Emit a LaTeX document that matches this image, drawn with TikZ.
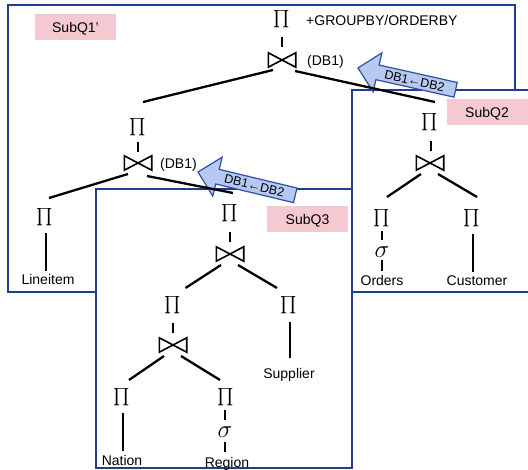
\documentclass[tikz,border=0pt]{standalone}
\usepackage{fontspec}
\setmainfont{Liberation Sans}
\usepackage{exscale}
\definecolor{boxblue}{HTML}{1F3D91}
\definecolor{arrfill}{HTML}{B7C9F1}
\definecolor{arrdraw}{HTML}{2E4FA6}
\definecolor{pinkq}{HTML}{F5C9D2}
\tikzset{
  qbox/.style={draw=boxblue, line width=1.5pt, fill=white},
  pin/.style={inner sep=0pt, font=\fontsize{17.5}{17.5}\selectfont},
  sig/.style={inner sep=0pt, font=\fontsize{25}{25}\selectfont},
  jn/.style={inner sep=0pt, minimum width=27pt, minimum height=14pt},
  bowtie/.style={line width=1.6pt, line join=miter},
  leaf/.style={inner sep=0pt, font=\fontsize{14}{16}\selectfont, text height=10.5pt, text depth=0pt},
  ann/.style={leaf, anchor=west},
  qlabel/.style={fill=pinkq, inner sep=0pt, minimum width=81pt, minimum height=26pt,
     font=\fontsize{14}{16}\selectfont, text height=10.5pt, text depth=0pt},
  tl/.style={line width=2.3pt},
  dbarr/.style={fill=arrfill, draw=arrdraw, line width=1.2pt, line join=miter},
  arrtext/.style={inner sep=0pt, font=\fontsize{12.5}{14}\selectfont, text height=9pt, text depth=0pt}
}
\begin{document}
\begin{tikzpicture}[x=1pt, y=-1pt]
\useasboundingbox (0,0) rectangle (528,470);
\clip (0,0) rectangle (528,470);
\fill[white] (0,0) rectangle (528,470);

% boxes
\draw[qbox] (8,5) rectangle (515,292);
\draw[qbox] (352,90) rectangle (545,292);
\draw[qbox] (96,189) rectangle (352,468);

% block arrows
\begin{scope}[shift={(358,68)}, rotate=-12.6]
  \draw[dbarr] (0,0) -- (20,-20) -- (20,-7.5) -- (100,-7.5) -- (100,7.5) -- (20,7.5) -- (20,20) -- cycle;
  \node[arrtext, transform shape] (a1) at (58,0) {DB1←DB2};
\end{scope}
\begin{scope}[shift={(198,172)}, rotate=-13.5]
  \draw[dbarr] (0,0) -- (20,-20) -- (20,-7.5) -- (100,-7.5) -- (100,7.5) -- (20,7.5) -- (20,20) -- cycle;
  \node[arrtext, transform shape] (a2) at (58,0) {DB1←DB2};
\end{scope}

% SubQ1' tree
\node[pin] (p1) at (282,19) {$\prod$};
\node[ann] (g1) at (306,20) {+GROUPBY/ORDERBY};
\node[jn] (j1) at (282,60) {};
\node[ann] (d1) at (307,60) {(DB1)};
\node[pin] (p2) at (138,127) {$\prod$};
\node[jn] (j2) at (138,163) {};
\node[ann] (d2) at (160,163) {(DB1)};
\node[pin] (p4) at (45,217) {$\prod$};
\node[leaf] (t1) at (48,279) {Lineitem};

% SubQ2 tree
\node[pin] (p3) at (430,122) {$\prod$};
\node[jn] (j3) at (430,163) {};
\node[pin] (p6) at (382,218) {$\prod$};
\node[sig] (s1) at (382,252) {$\sigma$};
\node[leaf] (t2) at (382,280) {Orders};
\node[pin] (p7) at (472,218) {$\prod$};
\node[leaf] (t3) at (477,280) {Customer};

% SubQ3 tree
\node[pin] (p5) at (230,213) {$\prod$};
\node[jn] (j4) at (230,254) {};
\node[pin] (p8) at (173,305) {$\prod$};
\node[jn] (j5) at (173,345) {};
\node[pin] (p10) at (122,397) {$\prod$};
\node[leaf] (t4) at (122,460) {Nation};
\node[pin] (p11) at (226,397) {$\prod$};
\node[sig] (s2) at (225,432) {$\sigma$};
\node[leaf] (t5) at (227,462) {Region};
\node[pin] (p9) at (289,305) {$\prod$};
\node[leaf] (t6) at (289,373) {Supplier};

% bowties
\foreach \j in {j1,j2,j3,j4,j5}
  \draw[bowtie] (\j.north west) -- (\j.south west) -- (\j.north east) -- (\j.south east) -- cycle;

% connectors
\draw[tl] ([shift={(0,18)}]p1.center) -- ([shift={(0,-13)}]j1.center);
\draw[tl] ([shift={(-9,10)}]j1.center) -- ([shift={(5,-25)}]p2.center);
\draw[tl] ([shift={(13,11)}]j1.center) -- ([shift={(5,-20)}]p3.center);
\draw[tl] ([shift={(0,15)}]p2.center) -- ([shift={(0,-11)}]j2.center);
\draw[tl] ([shift={(-10,11)}]j2.center) -- ([shift={(4,-19)}]p4.center);
\draw[tl] ([shift={(9,13)}]j2.center) -- ([shift={(3,-20)}]p5.center);
\draw[tl] ([shift={(1,16)}]p4.center) -- ([shift={(-2,-8)}]t1.center);

\draw[tl] ([shift={(1,19)}]p3.center) -- ([shift={(1,-12)}]j3.center);
\draw[tl] ([shift={(-9,11)}]j3.center) -- ([shift={(5,-21)}]p6.center);
\draw[tl] ([shift={(8,11)}]j3.center) -- ([shift={(5,-21)}]p7.center);
\draw[tl] ([shift={(0,13)}]p6.center) -- ([shift={(0,-12)}]s1.center);
\draw[tl] ([shift={(0,8)}]s1.center) -- ([shift={(0,-9)}]t2.center);
\draw[tl] ([shift={(1,16)}]p7.center) -- ([shift={(-4,-8)}]t3.center);

\draw[tl] ([shift={(0,19)}]p5.center) -- ([shift={(0,-12)}]j4.center);
\draw[tl] ([shift={(-9,11)}]j4.center) -- ([shift={(12.5,-17)}]p8.center);
\draw[tl] ([shift={(8,11)}]j4.center) -- ([shift={(-12,-17)}]p9.center);
\draw[tl] ([shift={(0,18)}]p8.center) -- ([shift={(0,-12)}]j5.center);
\draw[tl] ([shift={(-9,11)}]j5.center) -- ([shift={(7,-17)}]p10.center);
\draw[tl] ([shift={(8,11)}]j5.center) -- ([shift={(-6,-17)}]p11.center);
\draw[tl] ([shift={(1,16)}]p10.center) -- ([shift={(1,-9)}]t4.center);
\draw[tl] ([shift={(-1,13)}]p11.center) -- ([shift={(0,-12)}]s2.center);
\draw[tl] ([shift={(0,10)}]s2.center) -- ([shift={(-2,-10)}]t5.center);
\draw[tl] ([shift={(1,17)}]p9.center) -- ([shift={(1,-15)}]t6.center);

% query labels
\node[qlabel] (q1) at (75.5,27) {SubQ1'};
\node[qlabel] (q2) at (487,112) {SubQ2};
\node[qlabel] (q3) at (307.5,219) {SubQ3};
\end{tikzpicture}
\end{document}
